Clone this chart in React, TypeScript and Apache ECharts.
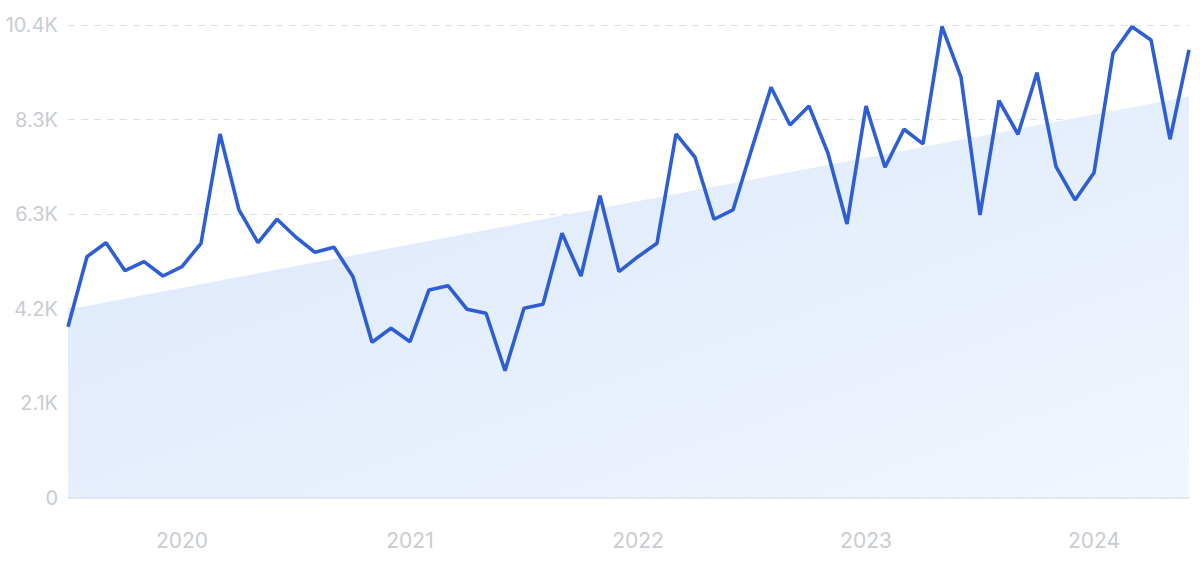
import React, { useEffect, useRef } from "react";
import * as echarts from "echarts";

const months: string[] = [
  "2019-07", "2019-08", "2019-09", "2019-10", "2019-11", "2019-12",
  "2020-01", "2020-02", "2020-03", "2020-04", "2020-05", "2020-06",
  "2020-07", "2020-08", "2020-09", "2020-10", "2020-11", "2020-12",
  "2021-01", "2021-02", "2021-03", "2021-04", "2021-05", "2021-06",
  "2021-07", "2021-08", "2021-09", "2021-10", "2021-11", "2021-12",
  "2022-01", "2022-02", "2022-03", "2022-04", "2022-05", "2022-06",
  "2022-07", "2022-08", "2022-09", "2022-10", "2022-11", "2022-12",
  "2023-01", "2023-02", "2023-03", "2023-04", "2023-05", "2023-06",
  "2023-07", "2023-08", "2023-09", "2023-10", "2023-11", "2023-12",
  "2024-01", "2024-02", "2024-03", "2024-04", "2024-05", "2024-06",
];

const searches: number[] = [
  3770, 5314, 5623, 5005, 5204, 4888, 5094, 5610, 8022, 6345, 5623, 6140,
  5743, 5411, 5522, 4873, 3425, 3734, 3438, 4580, 4674, 4154, 4065, 2798,
  4176, 4264, 5831, 4888, 6661, 4983, 5314, 5610, 8022, 7508, 6140, 6345,
  7713, 9053, 8221, 8640, 7597, 6036, 8640, 7287, 8126, 7802, 10390, 9274,
  6235, 8757, 8016, 9375, 7301, 6566, 7168, 9803, 10390, 10097, 7905, 9876,
];

// Trend line: only start and end values are known
const trendStart = 4150;
const trendEnd = 8850;

const yTicks: number[] = [0, 2084, 4168, 6252, 8336, 10420];
const yTickLabels: string[] = ["0", "2.1K", "4.2K", "6.3K", "8.3K", "10.4K"];

export default function App() {
  const ref = useRef<HTMLDivElement>(null);

  useEffect(() => {
    if (!ref.current) return;
    const chart = echarts.init(ref.current, null, { renderer: "svg" });
    const trend = months.map((_, i) =>
      i === 0 ? trendStart : i === months.length - 1 ? trendEnd : null
    );
    chart.setOption({
      animation: false,
      backgroundColor: "#ffffff",
      grid: { left: 68, right: 11, top: 25.3, bottom: 64.5, containLabel: false },
      xAxis: {
        type: "category",
        data: months,
        boundaryGap: false,
        axisLine: { show: true, lineStyle: { color: "#d6e0ee", width: 1.5 } },
        axisTick: { show: false },
        splitLine: { show: false },
        axisLabel: {
          interval: (_i: number, v: string) => v.endsWith("-01"),
          formatter: (v: string) => v.slice(0, 4),
          color: "#c9ccd3",
          fontFamily: "Inter",
          fontSize: 21,
          margin: 32,
        },
      },
      yAxis: {
        type: "value",
        min: 0,
        max: yTicks[yTicks.length - 1],
        interval: yTicks[1],
        axisLine: { show: false },
        axisTick: { show: false },
        splitLine: {
          show: true,
          lineStyle: { color: "#d9e1ed", type: [7, 6], width: 1 },
        },
        axisLabel: {
          formatter: (v: number) => {
            const idx = yTicks.findIndex((t) => Math.abs(t - v) < 1);
            return idx >= 0 ? yTickLabels[idx] : "";
          },
          color: "#c9ccd3",
          fontFamily: "Inter",
          fontSize: 20,
          margin: 10,
        },
      },
      series: [
        {
          type: "line",
          data: trend,
          connectNulls: true,
          symbol: "none",
          lineStyle: { width: 0 },
          areaStyle: {
            opacity: 1,
            color: new echarts.graphic.LinearGradient(0, 0, 1, 1, [
              { offset: 0, color: "#dae7fa" },
              { offset: 1, color: "#f1f6fe" },
            ]),
          },
          z: 1,
          silent: true,
        },
        {
          type: "line",
          data: searches,
          symbol: "none",
          smooth: false,
          lineStyle: { width: 3.6, color: "#2d5ed6" },
          z: 3,
        },
      ],
    });
    return () => chart.dispose();
  }, []);

  return (
    <div
      ref={ref}
      style={{ position: "fixed", left: 0, top: 0, width: 1200, height: 562 }}
    />
  );
}
